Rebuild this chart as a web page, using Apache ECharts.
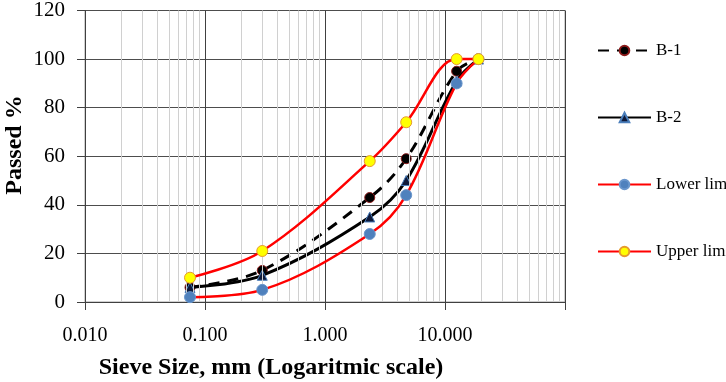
<!DOCTYPE html>
<html>
<head>
<meta charset="utf-8">
<script src="https://cdn.jsdelivr.net/npm/echarts@6/dist/echarts.min.js"></script>
<style>
  html, body { margin: 0; padding: 0; background: #fff; }
  #chart { width: 726px; height: 382px; }
</style>
</head>
<body>
<div id="chart"></div>
<script>
// sieve sizes (mm) and passing percentages
const sieveSizes = [0.075, 0.3, 2.36, 4.75, 12.5, 19];
const b1 = [6, 13, 43, 59, 95, 100];
const b2 = [6, 11, 35, 50, 91, 100];
const lowerLimit = [2, 5, 28, 44, 90, 100];
const upperLimit = [10, 21, 58, 74, 100, 100];
const yTicks = [0, 20, 40, 60, 80, 100, 120];

const pairs = (ys) => sieveSizes.map((x, i) => [x, ys[i]]);

// minor grid lines at 2..9 of each decade
const minorLines = [];
[0.01, 0.1, 1, 10].forEach(d => {
  for (let k = 2; k <= 9; k++) minorLines.push({ xAxis: +(d * k).toPrecision(3) });
});

const font = 'Liberation Serif';
const chart = echarts.init(document.getElementById('chart'));

chart.setOption({
  animation: false,
  backgroundColor: '#fff',
  textStyle: { fontFamily: font },
  grid: {
    left: 85, right: 161, top: 10, bottom: 80,
    show: true, borderColor: '#a0a0a0', borderWidth: 1
  },
  legend: {
    orient: 'vertical',
    left: 592,
    top: 37,
    itemWidth: 53,
    itemHeight: 12,
    itemGap: 50,
    textStyle: { fontFamily: font, fontSize: 17, color: '#000' },
    data: ['B-1', 'B-2', 'Lower limit', 'Upper limit']
  },
  xAxis: {
    type: 'log',
    logBase: 10,
    min: 0.01,
    max: 100,
    axisLine: { lineStyle: { color: '#404040', width: 1 } },
    axisTick: { show: true, length: 8, lineStyle: { color: '#404040' } },
    axisLabel: {
      margin: 24,
      fontFamily: font, fontSize: 20, color: '#000',
      formatter: v => v >= 100 ? '' : v.toFixed(3)
    },
    splitLine: { show: true, lineStyle: { color: '#404040', width: 1 } }
  },
  yAxis: {
    type: 'value',
    min: 0,
    max: 120,
    interval: 20,
    axisLine: { show: true, lineStyle: { color: '#404040', width: 1 } },
    axisTick: { show: true, length: 8, lineStyle: { color: '#404040' } },
    axisLabel: {
      margin: 20,
      fontFamily: font, fontSize: 21, color: '#000',
      formatter: v => yTicks.includes(v) ? String(v) : ''
    },
    splitLine: { show: true, lineStyle: { color: '#4d4d4d', width: 1 } }
  },
  graphic: [
    {
      type: 'text',
      x: 15,
      y: 145,
      rotation: Math.PI / 2,
      style: {
        text: 'Passed %',
        font: 'bold 24px "Liberation Serif"',
        fill: '#000',
        align: 'center',
        verticalAlign: 'middle'
      }
    },
    {
      type: 'text',
      x: 271,
      y: 368,
      style: {
        text: 'Sieve Size, mm (Logaritmic scale)',
        font: 'bold 24px "Liberation Serif"',
        fill: '#000',
        align: 'center',
        verticalAlign: 'middle'
      }
    }
  ],
  series: [
    {
      name: 'minor',
      type: 'line',
      data: [],
      z: 1,
      silent: true,
      markLine: {
        silent: true,
        symbol: 'none',
        label: { show: false },
        lineStyle: { color: '#d0d0d0', width: 1, type: 'solid' },
        emphasis: { disabled: true },
        data: minorLines
      }
    },
    {
      name: 'B-1',
      type: 'line',
      data: pairs(b1),
      smooth: 0.35,
      symbol: 'circle',
      symbolSize: 10,
      z: 3,
      lineStyle: { color: '#000', width: 3, type: [11, 8] },
      itemStyle: { color: '#000', borderColor: '#8b1a1a', borderWidth: 1 }
    },
    {
      name: 'B-2',
      type: 'line',
      data: pairs(b2),
      smooth: 0.35,
      symbol: 'triangle',
      symbolSize: 10,
      z: 4,
      lineStyle: { color: '#000', width: 3 },
      itemStyle: { color: '#0f1a3a', borderColor: '#4a7ebb', borderWidth: 1 }
    },
    {
      name: 'Lower limit',
      type: 'line',
      data: pairs(lowerLimit),
      smooth: 0.35,
      symbol: 'circle',
      symbolSize: 11,
      z: 5,
      lineStyle: { color: '#ff0000', width: 2.5 },
      itemStyle: { color: '#4f81bd', borderColor: '#6a96cc', borderWidth: 1 }
    },
    {
      name: 'Upper limit',
      type: 'line',
      data: pairs(upperLimit),
      smooth: 0.35,
      symbol: 'circle',
      symbolSize: 11,
      z: 6,
      lineStyle: { color: '#ff0000', width: 2.5 },
      itemStyle: { color: '#ffff00', borderColor: '#e69a2e', borderWidth: 1 }
    }
  ]
});
</script>
</body>
</html>
